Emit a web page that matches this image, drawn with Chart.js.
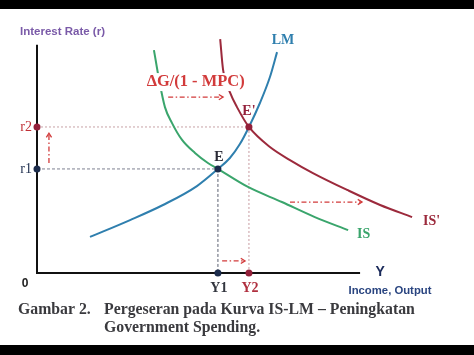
<!DOCTYPE html>
<html><head><meta charset="utf-8">
<script src="https://cdn.jsdelivr.net/npm/chart.js@4.4.0/dist/chart.umd.min.js"></script>
<style>html,body{margin:0;padding:0;background:#fff;overflow:hidden}canvas{display:block}</style>
</head><body>
<canvas id="c" width="474" height="355"></canvas>
<script>
// ---- data (model units: income on x, interest rate on y) ----
const isX  = [3.62, 3.78, 3.96, 4.18, 4.49, 4.89, 5.29, 5.60, 6.53, 7.58, 8.60, 9.63];
const isY  = [9.77, 8.46, 7.27, 6.57, 5.83, 5.26, 4.82, 4.56, 3.77, 3.11, 2.45, 1.88];
const is2X = [5.67, 5.76, 5.98, 6.19, 6.56, 7.21, 7.83, 8.54, 9.60, 10.62, 11.61];
const is2Y = [10.25, 8.90, 7.89, 7.27, 6.40, 5.52, 4.95, 4.38, 3.64, 2.98, 2.45];
const lmX  = [1.64, 2.88, 3.90, 4.95, 5.60, 5.97, 6.28, 6.56, 6.90, 7.21, 7.43];
const lmY  = [1.58, 2.32, 2.98, 3.81, 4.56, 5.04, 5.65, 6.40, 7.45, 8.59, 9.68];
const rateLabels   = ['r1', 'r2'];
const rateValues   = [4.56, 6.40];
const incomeLabels = ['Y1', 'Y2'];
const incomeValues = [5.60, 6.56];
const eqLabels     = ['E', "E'"];
const axisLength   = [10, 10];          // x axis end, y axis end
const gShiftX = [4.06, 5.76], gShiftY = [7.71, 7.71];   // ΔG/(1-MPC) arrow
const isShiftX = [7.83, 10.06], isShiftY = [3.11, 3.11]; // IS -> IS' arrow
const yShiftX = [5.73, 6.44], yShiftY = [0.53, 0.53];    // Y1 -> Y2 arrow
const rShiftX = [0.37, 0.37], rShiftY = [4.82, 6.13];    // r1 -> r2 arrow

const pts = (xs, ys) => xs.map((x, i) => ({x, y: ys[i]}));

const navy = '#1c2c4c', dred = '#93203a', red = '#d23b3b';
const C_IS = '#3aa56c', C_IS2 = '#9c2a3c', C_LM = '#2f7fae';
const dashDot = [5, 2.5, 1.5, 2.5];

const line = (data, color, width, dash, order, extra) => Object.assign({
  data, borderColor: color, borderWidth: width, borderDash: dash || [],
  pointRadius: 0, showLine: true, fill: false, tension: 0, clip: false, order
}, extra || {});

const curve = {cubicInterpolationMode: 'monotone'};

const datasets = [
  // equilibrium / tick dots (on top)
  {data: [
      {x: incomeValues[0], y: rateValues[0]}, {x: incomeValues[1], y: rateValues[1]},
      {x: 0, y: rateValues[0]}, {x: 0, y: rateValues[1]},
      {x: incomeValues[0], y: 0}, {x: incomeValues[1], y: 0}],
   pointRadius: 3.5, pointBorderWidth: 0,
   pointBackgroundColor: [navy, dred, navy, dred, navy, dred],
   showLine: false, clip: false, order: 0},
  line(pts(isX, isY), C_IS, 2, null, 2, curve),
  line(pts(is2X, is2Y), C_IS2, 2, null, 2, curve),
  line(pts(lmX, lmY), C_LM, 2, null, 1, curve),
  // axes
  line([{x: 0, y: axisLength[1]}, {x: 0, y: 0}, {x: axisLength[0], y: 0}], '#111', 2, null, 3),
  // guide lines
  line([{x: 0, y: rateValues[1]}, {x: incomeValues[1], y: rateValues[1]}], '#c7a2a6', 1, [2, 2], 5),
  line([{x: 0, y: rateValues[0]}, {x: incomeValues[0], y: rateValues[0]}], '#7d8090', 1, [3, 2], 5),
  line([{x: incomeValues[0], y: rateValues[0]}, {x: incomeValues[0], y: 0}], '#5a6070', 1, [3, 2], 5),
  line([{x: incomeValues[1], y: rateValues[1]}, {x: incomeValues[1], y: 0}], '#c79aa0', 1, [2, 2], 5),
  // shift arrows (shafts)
  line(pts(gShiftX, gShiftY), red, 1.3, dashDot, 4),
  line(pts(isShiftX, isShiftY), red, 1.3, dashDot, 4),
  line(pts(yShiftX, yShiftY), red, 1.3, dashDot, 4),
  line(pts(rShiftX, rShiftY), red, 1.3, dashDot, 4),
];

function fitFont(ctx, text, width, weight, family) {
  ctx.font = `${weight} 20px ${family}`;
  return 20 * width / ctx.measureText(text).width;
}

const labelsPlugin = {
  id: 'labels',
  beforeDraw(chart) {
    const c = chart.ctx;
    c.save(); c.fillStyle = '#fff'; c.fillRect(0, 0, chart.width, chart.height); c.restore();
  },
  afterDatasetsDraw(chart) {
    const c = chart.ctx, xs = chart.scales.x, ys = chart.scales.y;
    const X = v => xs.getPixelForValue(v), Y = v => ys.getPixelForValue(v);
    c.save();
    // arrow heads
    const head = (x0, y0, x1, y1) => {
      const a = Math.atan2(Y(y1) - Y(y0), X(x1) - X(x0));
      const px = X(x1), py = Y(y1);
      c.strokeStyle = red; c.lineWidth = 1.3; c.setLineDash([]);
      c.beginPath();
      c.moveTo(px - 5 * Math.cos(a - 0.55), py - 5 * Math.sin(a - 0.55));
      c.lineTo(px, py);
      c.lineTo(px - 5 * Math.cos(a + 0.55), py - 5 * Math.sin(a + 0.55));
      c.stroke();
    };
    head(gShiftX[0], gShiftY[0], gShiftX[1], gShiftY[1]);
    head(isShiftX[0], isShiftY[0], isShiftX[1], isShiftY[1]);
    head(yShiftX[0], yShiftY[0], yShiftX[1], yShiftY[1]);
    head(rShiftX[0], rShiftY[0], rShiftX[1], rShiftY[1]);

    const serif = "'Liberation Serif', 'Times New Roman', serif";
    const sans = "'Liberation Sans', Arial, sans-serif";
    c.textBaseline = 'middle';
    // ΔG label with white background
    const gTxt = 'ΔG/(1 - MPC)';
    c.font = `bold ${fitFont(c, gTxt, 98, 'bold', serif).toFixed(2)}px ${serif}`;
    const gx = (X(gShiftX[0]) + X(gShiftX[1])) / 2, gy = Y(gShiftY[0]) - 15;
    const gw = c.measureText(gTxt).width;
    c.fillStyle = '#fff'; c.fillRect(gx - gw / 2 - 2, gy - 9, gw + 4, 18);
    c.fillStyle = red; c.textAlign = 'center'; c.fillText(gTxt, gx, gy);

    c.font = `bold 14px ${serif}`;
    // equilibrium labels
    c.fillStyle = '#2a2a35'; c.fillText(eqLabels[0], X(incomeValues[0]) + 1, Y(rateValues[0]) - 12);
    c.fillStyle = dred; c.fillText(eqLabels[1], X(incomeValues[1]), Y(rateValues[1]) - 16);
    // curve labels
    c.fillStyle = C_LM; c.fillText('LM', X(lmX[lmX.length - 1]) + 6, Y(lmY[lmY.length - 1]) - 12);
    c.textAlign = 'left';
    c.fillStyle = C_IS; c.fillText('IS', X(isX[isX.length - 1]) + 9, Y(isY[isY.length - 1]) + 4);
    c.fillStyle = C_IS2; c.fillText("IS'", X(is2X[is2X.length - 1]) + 11, Y(is2Y[is2Y.length - 1]) + 4);
    // rate tick labels
    c.textAlign = 'right'; c.font = `14px ${serif}`;
    c.fillStyle = navy; c.fillText(rateLabels[0], X(0) - 5, Y(rateValues[0]));
    c.fillStyle = '#c03036'; c.fillText(rateLabels[1], X(0) - 5, Y(rateValues[1]));
    // income tick labels
    c.textAlign = 'center'; c.font = `bold 14px ${serif}`;
    c.fillStyle = '#33363f'; c.fillText(incomeLabels[0], X(incomeValues[0]) + 1, Y(0) + 15);
    c.fillStyle = '#b0303f'; c.fillText(incomeLabels[1], X(incomeValues[1]) + 1, Y(0) + 15);
    c.fillStyle = '#222'; c.font = `bold 12px ${sans}`; c.fillText('0', 25, Y(0) + 11);
    // axis titles
    c.fillStyle = '#1a2a5a'; c.font = `bold 14px ${sans}`; c.fillText('Y', X(axisLength[0]) + 20, Y(0) - 1);
    c.fillStyle = '#2a4580';
    c.font = `bold ${fitFont(c, 'Income, Output', 83, 'bold', sans).toFixed(2)}px ${sans}`;
    c.fillText('Income, Output', 390, 291);
    c.fillStyle = '#7a5aa8'; c.textAlign = 'left';
    c.font = `bold ${fitFont(c, 'Interest Rate (r)', 85, 'bold', sans).toFixed(2)}px ${sans}`;
    c.fillText('Interest Rate (r)', 20, 32);
    // caption
    const l1 = 'Pergeseran pada Kurva IS-LM – Peningkatan';
    const fs = fitFont(c, l1, 311, 'bold', serif);
    c.font = `bold ${fs.toFixed(2)}px ${serif}`; c.fillStyle = '#3a3a3e';
    c.fillText('Gambar 2.', 18, 310);
    c.fillText(l1, 104, 310);
    c.fillText('Government Spending.', 104, 328);
    // letterbox bars
    c.fillStyle = '#000';
    c.fillRect(0, 0, chart.width, 9);
    c.fillRect(0, 345, chart.width, 10);
    c.restore();
  }
};

new Chart(document.getElementById('c'), {
  type: 'scatter',
  data: {datasets},
  options: {
    responsive: false, devicePixelRatio: 1, animation: false,
    layout: {padding: {left: 37, right: 17, top: 22, bottom: 82}},
    scales: {
      x: {type: 'linear', min: 0, max: 13, display: false},
      y: {type: 'linear', min: 0, max: 11, display: false}
    },
    plugins: {legend: {display: false}, tooltip: {enabled: false}}
  },
  plugins: [labelsPlugin]
});
</script>
</body></html>
